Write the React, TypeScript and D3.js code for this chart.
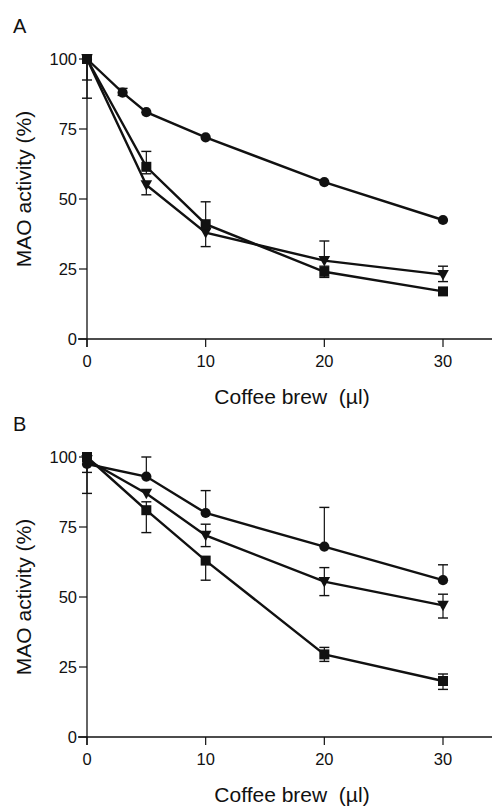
import React from 'react';
import { scaleLinear, line, symbol, symbolSquare, symbolCircle } from 'd3';

const INK = '#111';
const FONT = 'Liberation Sans, Arial, Helvetica, sans-serif';

const xTicks = [0, 10, 20, 30];
const yTicks = [0, 25, 50, 75, 100];

// Panel A
const aCircleX = [0, 3, 5, 10, 20, 30];
const aCircleY = [100, 88, 81, 72, 56, 42.5];
const aCircleHi = [null, 89.5, null, null, null, null];
const aCircleLo = [null, 87, null, null, null, null];

const aTriX = [0, 5, 10, 20, 30];
const aTriY = [100, 55, 38, 28, 23];
const aTriHi = [null, null, null, 35, 26];
const aTriLo = [86, 51.5, 33, null, 20.5];

const aSqX = [0, 5, 10, 20, 30];
const aSqY = [100, 61.5, 41, 24, 17];
const aSqHi = [null, 67, 49, 26, null];
const aSqLo = [92.5, 59, null, 22, null];

// Panel B
const bCircleX = [0, 5, 10, 20, 30];
const bCircleY = [97.5, 93, 80, 68, 56];
const bCircleHi = [null, 100, 88, 82, 61.5];
const bCircleLo = [94.5, null, null, null, null];

const bTriX = [0, 5, 10, 20, 30];
const bTriY = [99, 87, 72, 55.5, 47];
const bTriHi = [null, null, 76, 60.5, 51];
const bTriLo = [87, null, 68, 50.5, 42.5];

const bSqX = [0, 5, 10, 20, 30];
const bSqY = [100, 81, 63, 29.5, 20];
const bSqHi = [null, 84, null, 32, 22.5];
const bSqLo = [null, 73, 56, 27, 17];

type Series = { shape: string; x: number[]; y: number[]; hi: (number | null)[]; lo: (number | null)[] };

const panelA: Series[] = [
  { shape: 'circle', x: aCircleX, y: aCircleY, hi: aCircleHi, lo: aCircleLo },
  { shape: 'tri', x: aTriX, y: aTriY, hi: aTriHi, lo: aTriLo },
  { shape: 'square', x: aSqX, y: aSqY, hi: aSqHi, lo: aSqLo },
];
const panelB: Series[] = [
  { shape: 'circle', x: bCircleX, y: bCircleY, hi: bCircleHi, lo: bCircleLo },
  { shape: 'tri', x: bTriX, y: bTriY, hi: bTriHi, lo: bTriLo },
  { shape: 'square', x: bSqX, y: bSqY, hi: bSqHi, lo: bSqLo },
];

const X0 = 87;
const X1 = 443;
const CAP = 5;

function Marker({ shape, cx, cy }: { shape: string; cx: number; cy: number }) {
  if (shape === 'tri') {
    const s = 5.8;
    return <path d={`M${cx - s},${cy - s * 0.8}L${cx + s},${cy - s * 0.8}L${cx},${cy + s * 1.0}Z`} fill={INK} />;
  }
  const d = symbol(shape === 'square' ? symbolSquare : symbolCircle, shape === 'square' ? 100 : 82)();
  return <path d={d || ''} transform={`translate(${cx},${cy})`} fill={INK} />;
}

function Panel({ letter, top, labelMid, series }: { letter: string; top: number; labelMid: number; series: Series[] }) {
  const x = scaleLinear().domain([0, 30]).range([X0, X1]);
  const y = scaleLinear().domain([0, 100]).range([top + 280, top]);
  const y0 = y(0);
  const lineGen = line<[number, number]>()
    .x((d) => x(d[0]))
    .y((d) => y(d[1]));

  return (
    <g>
      <text x={13} y={top - 26} fontSize={20} fontFamily={FONT} fill={INK}>{letter}</text>
      {/* axes */}
      <line x1={X0} x2={X0} y1={y(100) - 1} y2={y0 + 8} stroke={INK} strokeWidth={1.3} />
      <line x1={X0 - 9} x2={492} y1={y0} y2={y0} stroke={INK} strokeWidth={1.3} />
      {yTicks.map((t) => (
        <g key={`y${t}`}>
          <line x1={X0 - 8} x2={X0} y1={y(t)} y2={y(t)} stroke={INK} strokeWidth={1.2} />
          <text x={X0 - 10} y={y(t)} dy="0.36em" textAnchor="end" fontSize={16.5} fontFamily={FONT} fill={INK}>{t}</text>
        </g>
      ))}
      {xTicks.map((t) => (
        <g key={`x${t}`}>
          <line x1={x(t)} x2={x(t)} y1={y0} y2={y0 + 8} stroke={INK} strokeWidth={1.2} />
          <text x={x(t)} y={y0 + 28} textAnchor="middle" fontSize={16.5} fontFamily={FONT} fill={INK}>{t}</text>
        </g>
      ))}
      <text
        transform={`translate(31,${top + labelMid}) rotate(-90)`}
        textAnchor="middle"
        fontSize={21}
        fontFamily={FONT}
        fill={INK}
      >MAO activity (%)</text>
      <text x={292} y={y0 + 65} textAnchor="middle" fontSize={21} fontFamily={FONT} fill={INK} xmlSpace="preserve">Coffee brew  (µl)</text>
      {/* error bars */}
      {series.map((s, si) =>
        s.x.map((xv, i) => {
          const cx = x(xv);
          const bars: React.ReactNode[] = [];
          [s.hi[i], s.lo[i]].forEach((e, k) => {
            if (e == null) return;
            bars.push(
              <g key={`e${si}-${i}-${k}`}>
                <line x1={cx} x2={cx} y1={y(s.y[i])} y2={y(e)} stroke={INK} strokeWidth={1.2} />
                <line x1={cx - CAP} x2={cx + CAP} y1={y(e)} y2={y(e)} stroke={INK} strokeWidth={1.4} />
              </g>,
            );
          });
          return bars;
        }),
      )}
      {/* lines */}
      {series.map((s, si) => (
        <path
          key={`l${si}`}
          d={lineGen(s.x.map((xv, i) => [xv, s.y[i]] as [number, number])) || ''}
          fill="none"
          stroke={INK}
          strokeWidth={2.4}
        />
      ))}
      {/* markers */}
      {series.map((s, si) =>
        s.x.map((xv, i) => <Marker key={`m${si}-${i}`} shape={s.shape} cx={x(xv)} cy={y(s.y[i])} />),
      )}
    </g>
  );
}

export default function App() {
  return (
    <svg
      width={492}
      height={808}
      viewBox="0 0 492 808"
      style={{ position: 'absolute', left: 0, top: 0, background: '#fff' }}
    >
      <rect width={492} height={808} fill="#fff" />
      <Panel letter="A" top={59} labelMid={130} series={panelA} />
      <Panel letter="B" top={457} labelMid={140} series={panelB} />
    </svg>
  );
}
